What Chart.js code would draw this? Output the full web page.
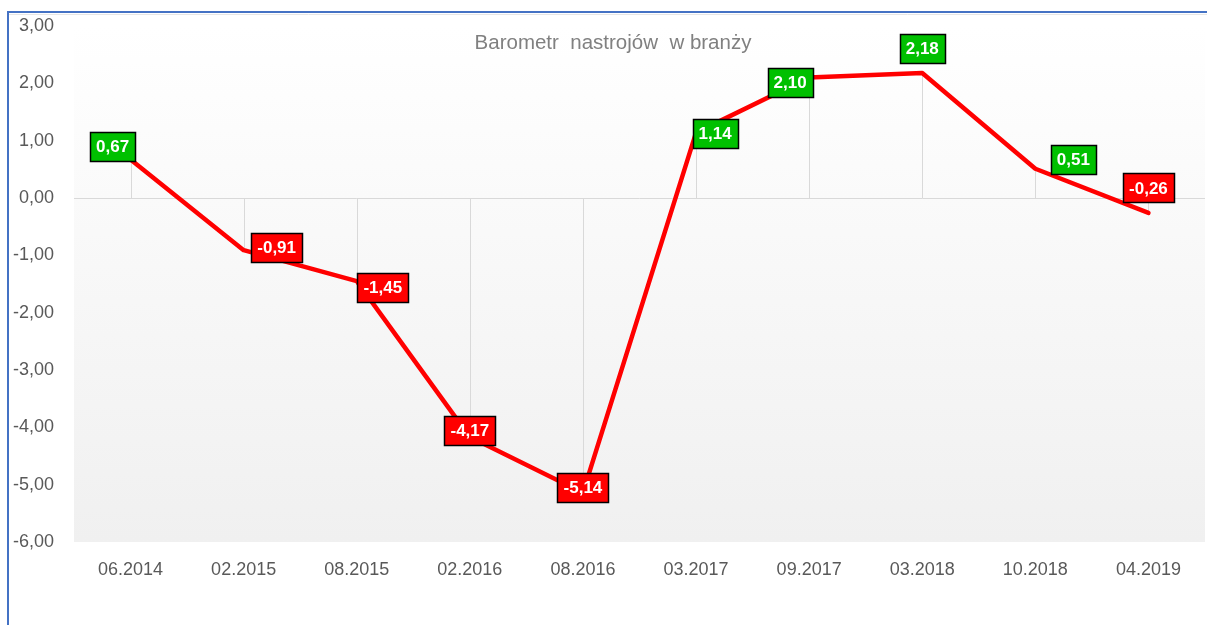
<!DOCTYPE html>
<html>
<head>
<meta charset="utf-8">
<script src="https://cdn.jsdelivr.net/npm/chart.js@4/dist/chart.umd.min.js"></script>
<style>
  html, body { margin: 0; padding: 0; background: #ffffff; }
  #wrap { width: 1207px; height: 625px; position: relative; }
</style>
</head>
<body>
<div id="wrap"><canvas id="c" width="1207" height="625"></canvas></div>
<script>
const categories = ["06.2014", "02.2015", "08.2015", "02.2016", "08.2016", "03.2017", "09.2017", "03.2018", "10.2018", "04.2019"];
const values = [0.67, -0.91, -1.45, -4.17, -5.14, 1.14, 2.10, 2.18, 0.51, -0.26];
const yTickValues = [3, 2, 1, 0, -1, -2, -3, -4, -5, -6];
const titleText = "Barometr  nastrojów  w branży";
// manual label placement (dx, dy from the point), as in the original
const labelOffsetX = [-18, 33, 26, 0, 0, 19, -19, 0, 38, 0];
const labelOffsetY = [-13, -3, 6, -7, -5, 1, 5, -25, -9, -25];

const FONT = "'Liberation Sans', Arial, sans-serif";

function fmt(v) { return v.toFixed(2).replace('.', ','); }

const decor = {
  id: 'decor',
  beforeDraw(chart) {
    const { ctx, chartArea: a } = chart;
    ctx.save();
    const g = ctx.createLinearGradient(0, a.top, 0, a.bottom);
    g.addColorStop(0, '#ffffff');
    g.addColorStop(1, '#f0f0f0');
    ctx.fillStyle = g;
    ctx.fillRect(a.left, a.top, a.right - a.left, a.bottom - a.top);
    ctx.restore();
  },
  beforeDatasetsDraw(chart) {
    const { ctx } = chart;
    const y = chart.scales.y;
    const meta = chart.getDatasetMeta(0);
    const y0 = y.getPixelForValue(0);
    ctx.save();
    ctx.strokeStyle = '#d9d9d9';
    ctx.lineWidth = 1;
    meta.data.forEach(p => {
      const x = Math.round(p.x) + 0.5;
      ctx.beginPath();
      ctx.moveTo(x, y0);
      ctx.lineTo(x, p.y);
      ctx.stroke();
    });
    // title
    ctx.fillStyle = '#808080';
    ctx.font = '20.5px ' + FONT;
    ctx.textAlign = 'center';
    ctx.textBaseline = 'middle';
    ctx.fillText(titleText, 613, 43);
    ctx.restore();
  },
  afterDatasetsDraw(chart) {
    const { ctx } = chart;
    const meta = chart.getDatasetMeta(0);
    ctx.save();
    ctx.font = 'bold 17px ' + FONT;
    ctx.textAlign = 'center';
    ctx.textBaseline = 'middle';
    meta.data.forEach((p, i) => {
      const v = values[i];
      const txt = fmt(v);
      const w = Math.round(ctx.measureText(txt).width) + 12;
      const h = 29;
      const cx = p.x + labelOffsetX[i];
      const cy = p.y + labelOffsetY[i];
      const x0 = Math.round(cx - w / 2) + 0.5;
      const y0 = Math.round(cy - h / 2) + 0.5;
      ctx.fillStyle = v >= 0 ? '#00c000' : '#ff0000';
      ctx.fillRect(x0, y0, w, h);
      ctx.strokeStyle = '#000000';
      ctx.lineWidth = 1.5;
      ctx.strokeRect(x0, y0, w, h);
      ctx.fillStyle = '#ffffff';
      ctx.fillText(txt, cx, cy + 1);
    });
    ctx.restore();
  },
  afterDraw(chart) {
    const { ctx } = chart;
    ctx.save();
    ctx.strokeStyle = '#4472c4';
    ctx.lineWidth = 2;
    ctx.beginPath();
    ctx.moveTo(8, 625);
    ctx.lineTo(8, 12);
    ctx.lineTo(1207, 12);
    ctx.stroke();
    ctx.strokeStyle = '#e6e6e6';
    ctx.lineWidth = 1;
    ctx.beginPath();
    ctx.moveTo(9, 14.5);
    ctx.lineTo(1207, 14.5);
    ctx.stroke();
    ctx.restore();
  }
};

new Chart(document.getElementById('c'), {
  type: 'line',
  data: {
    labels: categories,
    datasets: [{
      data: values,
      borderColor: '#ff0000',
      borderWidth: 4.5,
      pointRadius: 0,
      pointHoverRadius: 0,
      tension: 0,
      borderJoinStyle: 'round',
      borderCapStyle: 'round',
      fill: false
    }]
  },
  options: {
    responsive: false,
    animation: false,
    events: [],
    layout: { padding: { top: 26, right: 2, left: 0, bottom: 0 } },
    plugins: { legend: { display: false }, tooltip: { enabled: false }, title: { display: false } },
    scales: {
      x: {
        offset: true,
        grid: { display: false, drawTicks: false },
        border: { display: false },
        ticks: { color: '#595959', font: { family: FONT, size: 18 }, padding: 17, maxRotation: 0, autoSkip: false },
        afterFit(scale) { scale.height = 83; scale.paddingLeft = 0; scale.paddingRight = 0; }
      },
      y: {
        min: -6, max: 3,
        afterBuildTicks(scale) { scale.ticks = yTickValues.map(v => ({ value: v })); },
        grid: {
          drawTicks: false,
          color: ctx => (ctx.tick && ctx.tick.value === 0) ? '#d9d9d9' : 'rgba(0,0,0,0)',
          lineWidth: 1
        },
        border: { display: false },
        ticks: {
          color: '#595959', font: { family: FONT, size: 18 }, padding: 20,
          callback: v => fmt(v)
        },
        afterFit(scale) { scale.width = 74; scale.paddingTop = 0; scale.paddingBottom = 0; }
      }
    }
  },
  plugins: [decor]
});
</script>
</body>
</html>
